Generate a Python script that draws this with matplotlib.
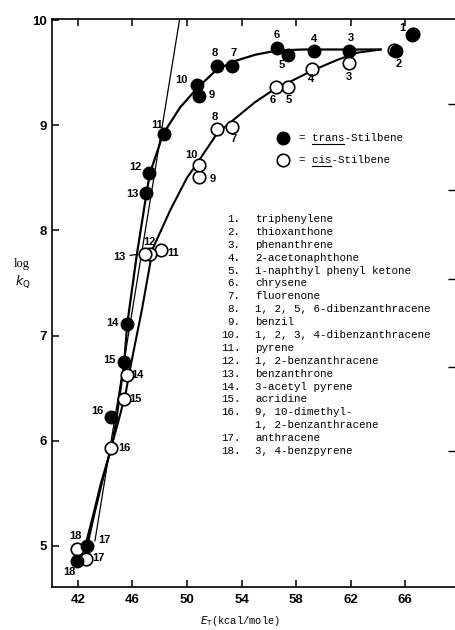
import matplotlib
matplotlib.use('Agg')
import matplotlib.pyplot as plt
from matplotlib.lines import Line2D

# compounds (sensitizers), numbered 1..18
compounds = ['triphenylene', 'thioxanthone', 'phenanthrene', '2-acetonaphthone',
             '1-naphthyl phenyl ketone', 'chrysene', 'fluorenone',
             '1, 2, 5, 6-dibenzanthracene', 'benzil', '1, 2, 3, 4-dibenzanthracene',
             'pyrene', '1, 2-benzanthracene', 'benzanthrone', '3-acetyl pyrene',
             'acridine', '9, 10-dimethyl-\n1, 2-benzanthracene', 'anthracene',
             '3, 4-benzpyrene']

# triplet energies (kcal/mole) and log kQ
trans_E = [66.5, 65.3, 61.9, 59.3, 57.4, 56.6, 53.3, 52.2, 50.9, 50.7,
           48.3, 47.2, 47.0, 45.6, 45.4, 44.4, 42.7, 41.9]
trans_logk = [9.86, 9.71, 9.71, 9.71, 9.67, 9.73, 9.56, 9.56, 9.28, 9.38,
              8.92, 8.55, 8.36, 7.11, 6.75, 6.23, 5.00, 4.86]
cis_E = [66.6, 65.2, 61.9, 59.2, 57.4, 56.5, 53.3, 52.2, 50.9, 50.9,
         48.1, 47.3, 46.9, 45.6, 45.4, 44.4, 42.6, 41.9]
cis_logk = [9.87, 9.72, 9.59, 9.53, 9.36, 9.36, 8.98, 8.96, 8.51, 8.62,
            7.81, 7.78, 7.78, 6.63, 6.40, 5.93, 4.88, 4.97]

# hand-drawn curves
trans_curve_E = [42.5, 43.1, 43.7, 44.5, 44.85, 45.4, 45.62, 46.3, 47.04, 47.3,
                 48.26, 49.5, 50.8, 52.2, 53.5, 55.0, 56.6, 58.5, 61.0, 64.2]
trans_curve_logk = [4.98, 5.28, 5.6, 5.95, 6.23, 6.75, 7.11, 7.75, 8.36, 8.55,
                    8.92, 9.17, 9.36, 9.53, 9.61, 9.67, 9.71, 9.72, 9.72, 9.72]
cis_curve_E = [42.6, 43.2, 43.8, 44.42, 45.0, 45.5, 45.85, 46.7, 47.5, 48.8,
               50.0, 50.7, 52.2, 53.4, 55.0, 56.5, 57.5, 59.2, 61.0, 62.5, 64.2]
cis_curve_logk = [4.95, 5.3, 5.62, 5.93, 6.2, 6.45, 6.7, 7.25, 7.83, 8.2,
                  8.5, 8.63, 8.92, 9.05, 9.22, 9.35, 9.41, 9.52, 9.62, 9.69, 9.72]
line_E = [43.25, 49.45]
line_logk = [5.05, 10.0]

xticks = [42, 46, 50, 54, 58, 62, 66]
yticks = [5, 6, 7, 8, 9, 10]
right_ticks = [9.2, 8.38, 7.54, 6.70, 5.9]

# label offsets in pixels (dx, dy), None = no label
trans_off = [(-10, 7), (3, -13), (2, 13), (0, 12), (-6, -10), (0, 13), (2, 13),
             (-2, 13), (12, 1), (-15, 5), (-7, 9), (-13, 6), (-14, -1),
             (-15, 1), (-15, 2), (-13, 6), (17, 6), (-7, -11)]
cis_off = [None, None, (0, -14), (-1, -10), (1, -13), (-3, -13), (2, -12),
           (-2, 12), (13, -2), (-8, 10), (12, -3), (-1, 12), (-25, -3),
           (10, 0), (11, 0), (14, 0), (12, 1), (-1, 13)]

fig = plt.figure(figsize=(4.55, 6.3), dpi=100)
ax = fig.add_axes([52 / 455, 43 / 630, 403 / 455, 568 / 630])
ax.set_xlim(40.1, 69.66)
ax.set_ylim(4.61, 10.01)

lab_font = dict(family='Liberation Sans', fontweight='bold', fontsize=8)

ax.plot(trans_curve_E, trans_curve_logk, color='black', lw=1.6, zorder=2)
ax.plot(cis_curve_E, cis_curve_logk, color='black', lw=1.5, zorder=2)
ax.plot(line_E, line_logk, color='black', lw=0.9, zorder=2)

ax.plot(cis_E, cis_logk, 'o', ms=9, mfc='white', mec='black', mew=1.2, zorder=3)
ax.plot(trans_E, trans_logk, 'o', ms=9, mfc='black', mec='black', zorder=4)

for i in range(len(compounds)):
    off = trans_off[i]
    ax.annotate(str(i + 1), xy=(trans_E[i], trans_logk[i]), xytext=off,
                textcoords='offset pixels', ha='center', va='center', **lab_font)
    off = cis_off[i]
    if off is None:
        continue
    if i == 12:
        ax.annotate(str(i + 1), xy=(cis_E[i], cis_logk[i]), xytext=off,
                    textcoords='offset pixels', ha='center', va='center',
                    arrowprops=dict(arrowstyle='-', lw=0.9, shrinkA=1, shrinkB=5),
                    **lab_font)
    else:
        ha = 'left' if i >= 13 and i <= 16 else 'center'
        if ha == 'left':
            off = (off[0] - 6, off[1])
        ax.annotate(str(i + 1), xy=(cis_E[i], cis_logk[i]), xytext=off,
                    textcoords='offset pixels', ha=ha, va='center', **lab_font)

# axes styling
for s in ['left', 'bottom', 'top']:
    ax.spines[s].set_linewidth(1.2)
ax.spines['right'].set_visible(False)
ax.set_xticks(xticks)
ax.set_yticks(yticks)
ax.tick_params(direction='in', length=5, width=1.1, top=True,
               labelsize=9.5)
ax.tick_params(axis='y', pad=4)
ax.tick_params(axis='x', pad=5)
for t in ax.get_xticklabels() + ax.get_yticklabels():
    t.set_fontweight('bold')
    t.set_family('Liberation Sans')

ax2 = ax.twinx()
ax2.set_ylim(ax.get_ylim())
ax2.set_yticks(right_ticks)
ax2.set_yticklabels([])
ax2.tick_params(direction='in', length=5, width=1.0)
for s in ax2.spines.values():
    s.set_visible(False)

# legend
mono = dict(family='Liberation Mono', fontsize=7.8)
ax.plot([0.574], [0.791], 'o', ms=9, mfc='black', mec='black',
        transform=ax.transAxes, clip_on=False)
ax.plot([0.574], [0.752], 'o', ms=9, mfc='white', mec='black', mew=1.2,
        transform=ax.transAxes, clip_on=False)
t1 = ax.text(0.612, 0.791, '= trans-Stilbene', transform=ax.transAxes,
             va='center', ha='left', **mono)
t2 = ax.text(0.612, 0.752, '= cis-Stilbene', transform=ax.transAxes,
             va='center', ha='left', **mono)

# compound list
row = 0
for i, name in enumerate(compounds):
    y = 0.648 - row * 0.0227
    ax.text(0.468, y, f'{i + 1}.', transform=ax.transAxes, ha='right',
            va='center', **mono)
    for k, part in enumerate(name.split('\n')):
        ax.text(0.504, y - k * 0.0227, part, transform=ax.transAxes,
                ha='left', va='center', **mono)
        row += 1

# axis labels
fig.text(240 / 455, 1 - 621 / 630, r'$E_{\mathrm{T}}$(kcal/mole)',
         ha='center', va='center', family='Liberation Mono', fontsize=7.5)
fig.text(22 / 455, 1 - 264 / 630, 'log', ha='center', va='center',
         family='Liberation Serif', fontsize=9)
fig.text(23 / 455, 1 - 282 / 630, r'$k_{\mathrm{Q}}$', ha='center', va='center',
         fontsize=9)

# underline the isomer prefixes
fig.canvas.draw()
for t, n in [(t1, 5), (t2, 3)]:
    bb = t.get_window_extent()
    cw = bb.width / len(t.get_text())
    x0 = bb.x0 + 2 * cw
    x1 = x0 + n * cw
    yl = bb.y0 - 1
    fig.add_artist(Line2D([x0 / fig.bbox.width, x1 / fig.bbox.width],
                          [yl / fig.bbox.height, yl / fig.bbox.height],
                          color='black', lw=0.8))

fig.savefig('out.png', dpi=100)
